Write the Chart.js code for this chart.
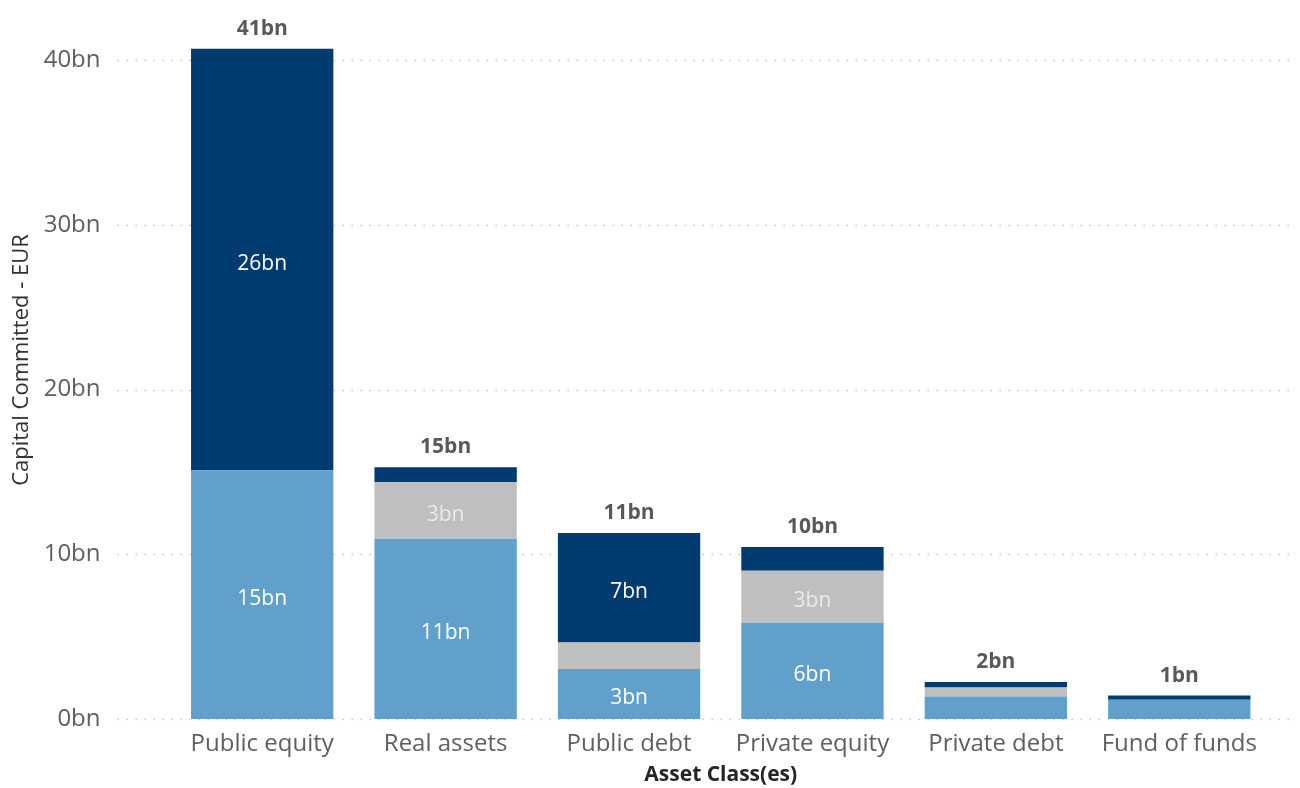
<!DOCTYPE html>
<html>
<head>
<meta charset="utf-8">
<title>Capital Committed by Asset Class</title>
<script src="https://cdn.jsdelivr.net/npm/chart.js@4.4.1/dist/chart.umd.min.js"></script>
<style>
  html, body { margin: 0; padding: 0; background: #fff; }
  #wrap { width: 1300px; height: 788px; }
</style>
</head>
<body>
<div id="wrap"><canvas id="grafico" width="1300" height="788"></canvas></div>
<script>
// asset classes along the x axis
const categorias = ["Public equity", "Real assets", "Public debt", "Private equity", "Private debt", "Fund of funds"]

// committed capital per segment, EUR bn (bottom to top of each stack)
const segClaro = [15.1, 10.94, 3.04, 5.85, 1.37, 1.17]
const segGris = [0, 3.43, 1.61, 3.15, 0.55, 0]
const segOscuro = [25.6, 0.92, 6.65, 1.45, 0.33, 0.25]

// y axis ticks
const ticksY = [0, 10, 20, 30, 40]

const totales = categorias.map((c, i) => segClaro[i] + segGris[i] + segOscuro[i])

const fuente = "'Open Sans', 'Segoe UI', sans-serif"
const fmt = (v) => Math.round(v) + "bn"

// dotted horizontal lines, running a bit past the plot on both sides
const lineasPunteadas = {
  id: "lineasPunteadas",
  beforeDatasetsDraw(chart) {
    const { ctx, chartArea, scales } = chart
    const y = scales.y
    ctx.save()
    ctx.strokeStyle = "#c6c6c6"
    ctx.lineWidth = 1.5
    ctx.setLineDash([1.5, 7.5])
    ticksY.forEach((t) => {
      const py = Math.round(y.getPixelForValue(t)) + 0.5
      ctx.beginPath()
      ctx.moveTo(chartArea.left - 53, py)
      ctx.lineTo(chartArea.right + 19, py)
      ctx.stroke()
    })
    ctx.restore()
  },
}

// values inside the segments and totals on top
const etiquetas = {
  id: "etiquetas",
  afterDatasetsDraw(chart) {
    const { ctx, scales } = chart
    ctx.save()
    ctx.textAlign = "center"
    ctx.textBaseline = "middle"
    ctx.font = "21px " + fuente
    chart.data.datasets.forEach((ds, i) => {
      chart.getDatasetMeta(i).data.forEach((bar, j) => {
        const alto = bar.base - bar.y
        if (alto < 30) return
        ctx.fillStyle = i === 1 ? "#e9e9e9" : "#ffffff"
        ctx.fillText(fmt(ds.data[j]), bar.x, (bar.y + bar.base) / 2 + 4)
      })
    })
    ctx.font = "bold 21px " + fuente
    ctx.fillStyle = "#595959"
    const barras = chart.getDatasetMeta(0).data
    totales.forEach((t, j) => {
      ctx.fillText(fmt(t), barras[j].x, scales.y.getPixelForValue(t) - 20)
    })
    ctx.restore()
  },
}

const lienzo = document.getElementById("grafico")

new Chart(lienzo, {
  type: "bar",
  data: {
    labels: categorias,
    datasets: [
      { label: "claro", data: segClaro, backgroundColor: "#62a0cc" },
      { label: "gris", data: segGris, backgroundColor: "#bfbfbf" },
      { label: "oscuro", data: segOscuro, backgroundColor: "#013b70" },
    ],
  },
  options: {
    responsive: false,
    animation: false,
    devicePixelRatio: 1,
    layout: { padding: { top: 1, right: 29, bottom: 0, left: 0 } },
    datasets: {
      bar: { categoryPercentage: 1, barPercentage: 0.776, borderWidth: 0 },
    },
    plugins: {
      legend: { display: false },
      tooltip: { enabled: false },
    },
    scales: {
      x: {
        stacked: true,
        grid: { display: false, drawTicks: false },
        border: { display: false },
        ticks: {
          color: "#605e5c",
          font: { family: fuente, size: 24 },
          padding: 11,
          maxRotation: 0,
        },
        title: {
          display: true,
          text: "Asset Class(es)",
          color: "#252423",
          font: { family: fuente, size: 21, weight: "bold" },
          padding: { top: 0, bottom: 0 },
        },
        afterFit(scale) {
          scale.height = 69
        },
      },
      y: {
        stacked: true,
        bounds: "data",
        min: 0,
        max: 43.6,
        grid: { display: false, drawTicks: false },
        border: { display: false },
        ticks: {
          stepSize: 10,
          includeBounds: false,
          color: "#605e5c",
          font: { family: fuente, size: 24 },
          padding: 70,
          callback: (v) => v + "bn",
        },
        title: {
          display: true,
          text: "Capital Committed - EUR",
          color: "#323130",
          font: { family: fuente, size: 22 },
          padding: { top: 9, bottom: 0 },
        },
        afterFit(scale) {
          // fixed axis width; the large label padding should not eat vertical space
          scale.width = 170.5
          scale.paddingTop = 0
          scale.paddingBottom = 0
        },
      },
    },
  },
  plugins: [lineasPunteadas, etiquetas],
})
</script>
</body>
</html>
